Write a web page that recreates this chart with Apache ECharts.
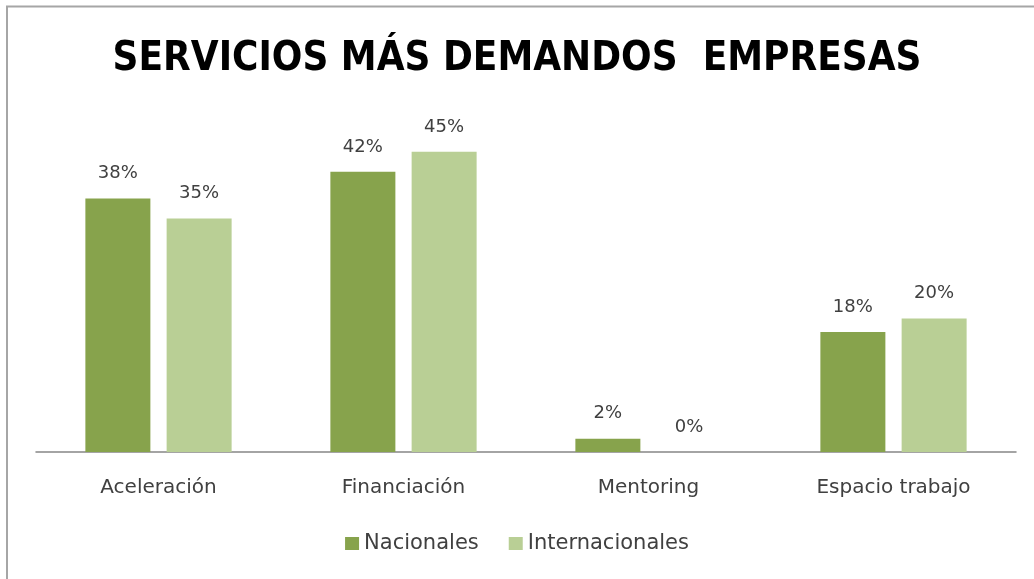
<!DOCTYPE html>
<html><head><meta charset="utf-8">
<script src="https://cdn.jsdelivr.net/npm/echarts@6/dist/echarts.min.js"></script>
<style>html,body{margin:0;padding:0;background:#fff}#c{width:1034px;height:579px}</style>
</head><body><div id="c"></div>
<script>
const categories = ['Aceleración', 'Financiación', 'Mentoring', 'Espacio trabajo'];
const nacionales = [38, 42, 2, 18];
const internacionales = [35, 45, 0, 20];
const seriesNames = ['Nacionales', 'Internacionales'];

const chart = echarts.init(document.getElementById('c'));
const txtFont = 'DejaVu Sans';
const labelStyle = {show: true, position: 'top', distance: 16, formatter: '{c}%', color: '#404040', fontSize: 18, fontFamily: txtFont};
chart.setOption({
  animation: false,
  title: {text: 'SERVICIOS MÁS DEMANDOS  EMPRESAS', left: 'center', top: 35,
    textStyle: {fontFamily: 'DejaVu Sans Condensed', fontWeight: 'bold', fontSize: 40, color: '#000'}},
  legend: {data: seriesNames, bottom: 20, left: 'center', itemWidth: 14, itemHeight: 13, itemGap: 30,
    icon: 'rect', textStyle: {fontSize: 21, color: '#404040', fontFamily: txtFont}},
  grid: {left: 36, right: 18, top: 118.5, bottom: 127, containLabel: false},
  xAxis: {type: 'category', data: categories,
    axisLine: {lineStyle: {color: '#868686', width: 1.5}}, axisTick: {show: false},
    axisLabel: {color: '#404040', fontSize: 20, margin: 26, fontFamily: txtFont}},
  yAxis: {type: 'value', min: 0, max: 50, show: false, splitLine: {show: false}},
  series: [
    {name: seriesNames[0], type: 'bar', data: nacionales, barWidth: 65, barGap: '25%',
      itemStyle: {color: '#87A34C'}, label: labelStyle},
    {name: seriesNames[1], type: 'bar', data: internacionales, barWidth: 65,
      itemStyle: {color: '#B9CF95'}, label: labelStyle}
  ],
  graphic: [
    {type: 'line', shape: {x1: 6, y1: 6.5, x2: 1034, y2: 6.5}, style: {stroke: '#a6a6a6', lineWidth: 2}},
    {type: 'line', shape: {x1: 7, y1: 6, x2: 7, y2: 579}, style: {stroke: '#a6a6a6', lineWidth: 2}}
  ]
});
</script></body></html>
